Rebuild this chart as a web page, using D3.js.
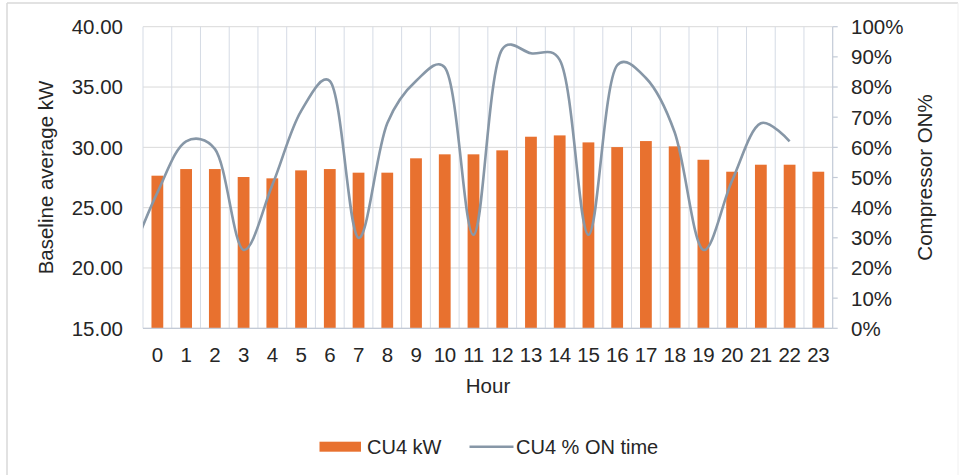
<!DOCTYPE html>
<html><head><meta charset="utf-8">
<script src="https://cdn.jsdelivr.net/npm/d3@7"></script>
<style>
html,body{margin:0;padding:0;background:#fff;}
svg{display:block;font-family:"Liberation Sans",Arial,sans-serif;}
</style></head>
<body>
<svg id="chart" width="964" height="475"></svg>
<script>
const hours = d3.range(24).map(String);
const kw = [27.65,28.2,28.2,27.54,27.43,28.09,28.2,27.9,27.9,29.09,29.42,29.42,
            29.75,30.88,30.99,30.41,30.02,30.52,30.08,28.97,27.98,28.56,28.56,27.98];
// line is plotted at hour positions; the hour -1 lead-in is clipped at the plot edge
const pctHours = [-1,0,1,2,3,4,5,6,7,8,9,10,11,12,13,14,15,16,17,18,19,20,21,22];
const pct = [0.22,0.45,0.62,0.595,0.26,0.475,0.72,0.82,0.30,0.68,0.82,0.865,0.31,
             0.925,0.912,0.89,0.31,0.872,0.83,0.65,0.26,0.49,0.68,0.62];
const leftTicks = [15,20,25,30,35,40];
const rightTicks = d3.range(0,1.01,0.1);

const svg = d3.select("#chart");
const m = {l:143, r:832.7, t:26.7, b:328.3};
const W = m.r-m.l, H = m.b-m.t;

// frame
svg.append("line").attr("x1",7).attr("x2",7).attr("y1",3).attr("y2",475).attr("stroke","#d9d9d9").attr("stroke-width",1.5);
svg.append("line").attr("x1",7).attr("x2",958).attr("y1",3).attr("y2",3).attr("stroke","#d9d9d9").attr("stroke-width",1.5);
svg.append("line").attr("x1",958).attr("x2",958).attr("y1",3).attr("y2",475).attr("stroke","#f0f0f0").attr("stroke-width",1);

const x = d3.scaleBand().domain(hours).range([m.l,m.r]).paddingInner(0.59).paddingOuter(0.295);
const step = x.step();
const xh = d3.scaleLinear().domain([0,1]).range([x("0")+x.bandwidth()/2, x("0")+x.bandwidth()/2+step]);
const yL = d3.scaleLinear().domain([15,40]).range([m.b,m.t]);
const yR = d3.scaleLinear().domain([0,1]).range([m.b,m.t]);

const g = svg.append("g");
g.selectAll(".hg").data(leftTicks).join("line")
  .attr("x1",m.l).attr("x2",m.r).attr("y1",d=>yL(d)).attr("y2",d=>yL(d))
  .attr("stroke","#d9d9d9").attr("stroke-width",1);
g.selectAll(".vg").data(d3.range(24)).join("line")
  .attr("x1",d=>m.l+d*step).attr("x2",d=>m.l+d*step).attr("y1",m.t).attr("y2",m.b)
  .attr("stroke","#d5dbe5").attr("stroke-width",1);

g.selectAll(".bar").data(kw).join("rect")
  .attr("x",(d,i)=>x(hours[i])).attr("width",x.bandwidth())
  .attr("y",d=>yL(d)).attr("height",d=>yL(15)-yL(d))
  .attr("fill","#e8712f");

svg.append("line").attr("x1",m.l).attr("x2",m.r).attr("y1",m.b).attr("y2",m.b).attr("stroke","#c3cad6").attr("stroke-width",1.2);
svg.append("line").attr("x1",m.r).attr("x2",m.r).attr("y1",m.t).attr("y2",m.b).attr("stroke","#c3cad6").attr("stroke-width",1.2);
svg.selectAll(".rt").data(rightTicks).join("line")
  .attr("x1",m.r).attr("x2",m.r+5).attr("y1",d=>yR(d)).attr("y2",d=>yR(d))
  .attr("stroke","#c3cad6").attr("stroke-width",1.2);

svg.append("clipPath").attr("id","pc").append("rect").attr("x",m.l).attr("y",0).attr("width",W).attr("height",475);
const line = d3.line().x((d,i)=>xh(pctHours[i])).y(d=>yR(d)).curve(d3.curveCatmullRom.alpha(0.3));
svg.append("path").datum(pct).attr("d",line).attr("clip-path","url(#pc)")
  .attr("fill","none").attr("stroke","#8797a7").attr("stroke-width",2.6).attr("stroke-linejoin","round");

const fs = 20.5, tc = "#262626";
svg.selectAll(".lt").data(leftTicks).join("text")
  .attr("x",123).attr("y",d=>yL(d)).attr("dy","0.36em").attr("text-anchor","end")
  .attr("font-size",fs).attr("fill",tc).text(d=>d.toFixed(2));
svg.selectAll(".rtl").data(rightTicks).join("text")
  .attr("x",851).attr("y",d=>yR(d)).attr("dy","0.36em").attr("text-anchor","start")
  .attr("font-size",fs).attr("fill",tc).text(d=>Math.round(d*100)+"%");
svg.selectAll(".xt").data(hours).join("text")
  .attr("x",d=>x(d)+x.bandwidth()/2).attr("y",355).attr("dy","0.36em").attr("text-anchor","middle")
  .attr("font-size",fs).attr("fill",tc).attr("letter-spacing","-0.3").text(d=>d);

svg.append("text").attr("x",488).attr("y",386).attr("dy","0.36em").attr("text-anchor","middle")
  .attr("font-size",fs).attr("fill",tc).text("Hour");
svg.append("text").attr("transform","translate(46,177.5) rotate(-90)").attr("dy","0.36em").attr("text-anchor","middle")
  .attr("font-size",fs).attr("fill",tc).text("Baseline average kW");
svg.append("text").attr("transform","translate(925,177.5) rotate(-90)").attr("dy","0.36em").attr("text-anchor","middle")
  .attr("font-size",fs).attr("fill",tc).text("Compressor ON%");

const ly = 446.7;
svg.append("rect").attr("x",319.5).attr("y",ly-5).attr("width",41.5).attr("height",10).attr("fill","#e8712f");
svg.append("text").attr("x",367).attr("y",ly).attr("dy","0.36em").attr("font-size",20).attr("fill",tc).text("CU4 kW");
svg.append("line").attr("x1",469.5).attr("x2",513.5).attr("y1",ly).attr("y2",ly).attr("stroke","#8797a7").attr("stroke-width",2.6);
svg.append("text").attr("x",516).attr("y",ly).attr("dy","0.36em").attr("font-size",20).attr("fill",tc).text("CU4 % ON time");
</script>
</body></html>
